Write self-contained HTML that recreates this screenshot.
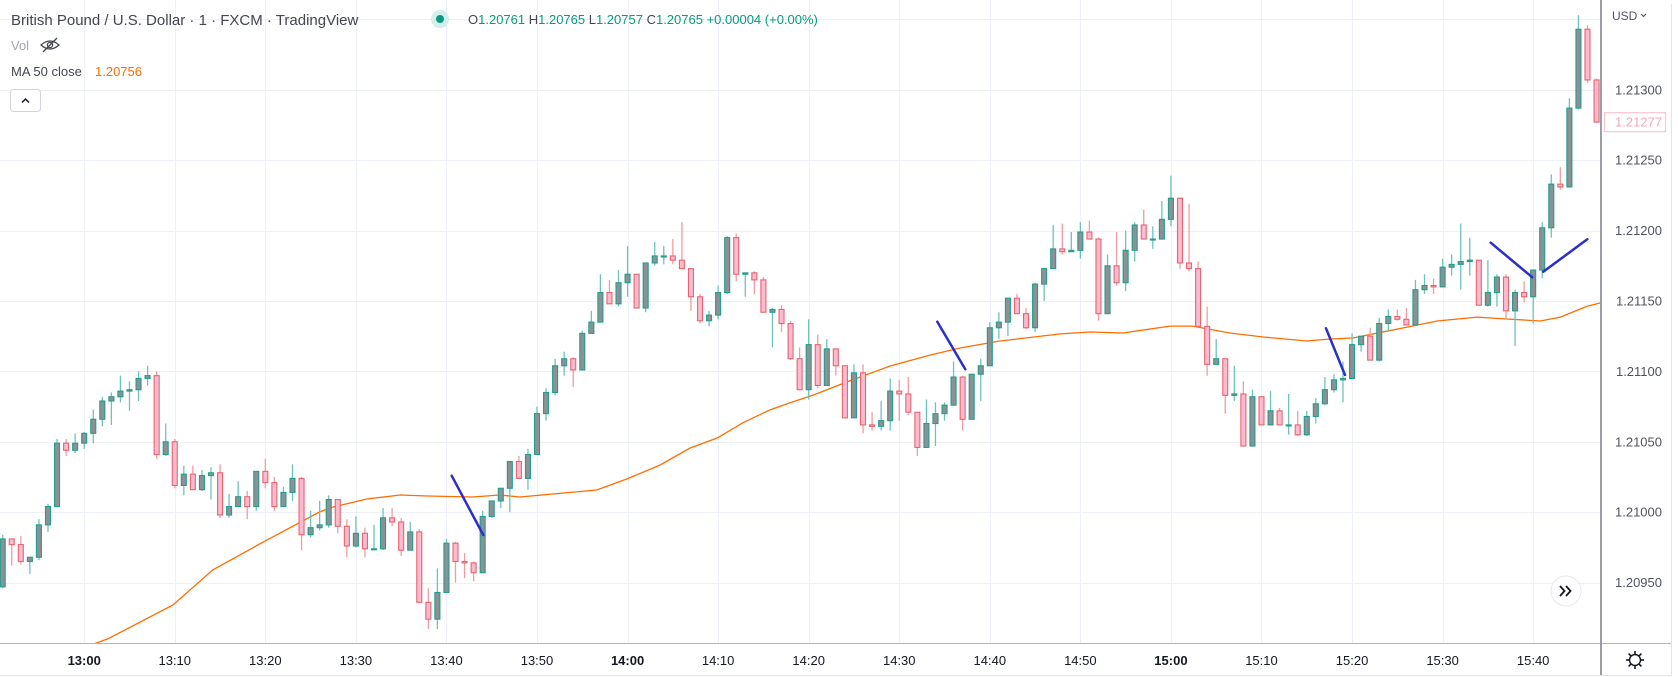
<!DOCTYPE html>
<html><head><meta charset="utf-8">
<style>
html,body{margin:0;padding:0;background:#fff;}
body{width:1678px;height:677px;overflow:hidden;font-family:"Liberation Sans",sans-serif;}
svg{display:block;}
</style></head>
<body>
<svg id="chart" width="1678" height="677" viewBox="0 0 1678 677" xmlns="http://www.w3.org/2000/svg">
  <rect x="0" y="0" width="1678" height="677" fill="#ffffff"/>
  <g id="grid"></g>
  <g id="ma"></g>
  <g id="candles"></g>
  <g id="drawings">
    <line x1="451.7" y1="475.7" x2="483.3" y2="535" stroke="#2b2fc8" stroke-width="2.5" stroke-linecap="round"/>
    <line x1="937.3" y1="321.7" x2="965.3" y2="369.3" stroke="#2b2fc8" stroke-width="2.5" stroke-linecap="round"/>
    <line x1="1326" y1="328.3" x2="1345" y2="375" stroke="#2b2fc8" stroke-width="2.5" stroke-linecap="round"/>
    <line x1="1490.7" y1="242.7" x2="1532.3" y2="277.3" stroke="#2b2fc8" stroke-width="2.5" stroke-linecap="round"/>
    <line x1="1543.3" y1="271.7" x2="1587.3" y2="239.3" stroke="#2b2fc8" stroke-width="2.5" stroke-linecap="round"/>
  </g>
  <rect x="1602" y="0" width="70" height="675" fill="#ffffff"/>
  <rect x="0" y="644" width="1601" height="31" fill="#ffffff"/>
  <line x1="0" y1="643.5" x2="1672" y2="643.5" stroke="#b2b5be" stroke-width="1"/>
  <line x1="1601" y1="0" x2="1601" y2="675" stroke="#9a9da6" stroke-width="2"/>
  <line x1="1671.5" y1="4" x2="1671.5" y2="675" stroke="#e0e3eb" stroke-width="1"/>
  <line x1="0" y1="675.5" x2="1672" y2="675.5" stroke="#e0e3eb" stroke-width="1"/>
  <g id="yaxis"></g>
  <g id="xaxis"></g>
  <text x="1612" y="20" font-size="12" fill="#50535e" font-family="Liberation Sans, sans-serif">USD</text>
  <path d="M1641 14 l2.5 2.5 l2.5 -2.5" fill="none" stroke="#50535e" stroke-width="1.1"/>
  <g transform="translate(1635,660)">
    <circle r="5.5" fill="none" stroke="#131722" stroke-width="1.4"/>
    <g stroke="#131722" stroke-width="1.6">
      <line x1="0" y1="-9" x2="0" y2="-6"/><line x1="0" y1="6" x2="0" y2="9"/>
      <line x1="-9" y1="0" x2="-6" y2="0"/><line x1="6" y1="0" x2="9" y2="0"/>
      <line x1="-6.4" y1="-6.4" x2="-4.2" y2="-4.2"/><line x1="4.2" y1="4.2" x2="6.4" y2="6.4"/>
      <line x1="-6.4" y1="6.4" x2="-4.2" y2="4.2"/><line x1="4.2" y1="-4.2" x2="6.4" y2="-6.4"/>
    </g>
  </g>
  <g>
    <circle cx="1566" cy="591" r="15" fill="#ffffff" stroke="#e6e8ee" stroke-width="1"/>
    <path d="M1560 586 l4.5 5 l-4.5 5 M1566 586 l4.5 5 l-4.5 5" fill="none" stroke="#131722" stroke-width="1.8"/>
  </g>
  <text x="11" y="25" font-size="15" fill="#434651" font-family="Liberation Sans, sans-serif">British Pound / U.S. Dollar · 1 · FXCM · TradingView</text>
  <circle cx="440" cy="19" r="9" fill="#d4efea"/>
  <circle cx="440" cy="19" r="4" fill="#089981"/>
  <text x="468" y="24" font-size="13" font-family="Liberation Sans, sans-serif" fill="#089981"><tspan fill="#434651">O</tspan>1.20761 <tspan fill="#434651">H</tspan>1.20765 <tspan fill="#434651">L</tspan>1.20757 <tspan fill="#434651">C</tspan>1.20765 +0.00004 (+0.00%)</text>
  <text x="11" y="50" font-size="13" fill="#a3a6af" font-family="Liberation Sans, sans-serif">Vol</text>
  <g stroke="#434651" fill="none" stroke-width="1.3">
    <path d="M41 45 q9 -8 18 0 q-9 8 -18 0z"/>
    <circle cx="50" cy="45" r="2.6"/>
    <line x1="43" y1="52" x2="57" y2="38"/>
  </g>
  <text x="11" y="76" font-size="13" fill="#434651" font-family="Liberation Sans, sans-serif">MA 50 close</text>
  <text x="95" y="76" font-size="13" fill="#ff6d00" font-family="Liberation Sans, sans-serif">1.20756</text>
  <g>
    <rect x="10.5" y="89.5" width="30" height="22" rx="3" fill="#ffffff" stroke="#d1d4dc"/>
    <path d="M22 102.5 l3.5 -3.5 l3.5 3.5" fill="none" stroke="#131722" stroke-width="1.5"/>
  </g>
  <g id="lastprice"></g>
</svg>
<script>
// Prices stored as offsets from BASE in units of 0.00001
const BASE = 1.20900;
const opens  = [47,81,77,65,68,91,104,149,144,149,156,166,179,182,186,187,195,197,141,150,119,127,116,126,128,98,104,111,104,129,121,104,114,124,84,89,91,109,90,76,85,74,74,96,93,73,86,36,24,43,78,65,64,57,97,108,117,136,124,141,170,185,204,209,201,227,235,256,248,263,269,245,277,282,282,279,273,253,236,240,256,295,269,270,265,242,244,234,209,187,219,190,216,204,167,199,162,161,165,186,184,171,146,163,170,176,196,166,198,204,231,235,252,241,231,262,273,287,285,286,299,294,241,275,263,286,304,294,294,308,323,277,273,232,205,209,183,184,147,182,162,172,162,162,155,168,177,187,194,195,219,225,208,234,239,237,233,258,261,260,274,276,278,279,247,256,267,243,256,253,272,302,333,331,387,443,407];
const highs  = [84,81,83,68,95,106,152,152,156,157,173,182,185,197,193,200,204,200,163,152,133,133,130,132,134,113,122,115,129,138,125,118,134,125,101,108,112,109,95,97,89,91,103,103,96,93,88,46,60,81,79,71,65,101,108,117,136,140,145,175,188,209,214,210,229,243,269,265,272,289,269,277,292,289,294,306,273,255,243,261,296,298,270,271,267,245,247,236,217,237,226,223,216,204,205,205,171,179,195,194,196,171,180,178,178,207,197,198,209,235,242,252,255,245,263,273,304,305,299,306,307,295,283,299,300,306,315,303,321,339,323,319,278,246,223,209,204,193,187,182,186,174,184,172,172,181,196,198,207,227,225,231,238,244,244,245,265,269,266,280,283,305,295,279,279,269,269,258,264,272,306,340,345,394,453,446,408];
const lows   = [46,62,63,56,66,86,104,140,142,145,149,161,162,178,172,179,190,138,140,117,112,116,115,109,96,96,104,95,101,117,101,104,108,73,82,87,89,85,68,75,68,74,73,90,69,73,36,17,17,43,50,53,51,57,96,103,100,124,116,141,165,183,197,189,201,227,235,248,246,253,245,242,275,276,276,273,243,234,232,237,255,264,253,255,242,217,228,208,187,180,188,190,197,167,167,156,158,158,158,165,169,140,146,147,165,176,158,166,179,204,223,225,241,230,228,250,273,283,285,280,294,236,241,261,257,278,294,287,294,303,273,271,232,197,205,170,179,147,147,162,162,162,155,154,154,163,176,185,178,195,214,208,207,228,236,233,233,255,255,260,268,258,268,247,246,246,237,218,249,234,266,295,329,331,386,405,377];
const closes = [81,77,65,68,91,104,149,144,149,156,166,179,182,186,187,195,197,141,150,119,127,116,126,128,98,104,111,104,129,121,104,114,124,84,89,91,109,90,76,85,74,74,96,93,73,86,36,24,43,78,65,64,57,97,108,117,136,124,141,170,185,204,209,201,227,235,256,248,263,269,245,277,282,282,279,273,253,236,240,256,295,269,270,265,242,244,234,209,187,219,190,216,204,167,199,162,161,165,186,184,171,146,163,170,176,196,166,198,204,231,235,252,241,231,262,273,287,285,286,299,294,241,275,263,286,304,294,294,308,323,277,273,232,205,209,183,184,147,182,162,172,162,162,155,168,177,187,194,195,219,225,208,234,239,237,233,258,261,260,274,276,278,279,247,256,267,243,256,253,272,302,333,331,387,443,407,377];
const maIdx = [9.75,11.6,18.8,23.2,29.2,35.0,36.5,40.2,43.9,46.9,51.9,54.9,57.1,65.6,68.9,72.6,75.9,78.9,81.7,84.7,86.9,89.5,93.2,98.0,102.4,105.7,110.1,116.8,120.1,123.7,128.9,131.4,135.5,139.2,144.0,146.6,149.1,154.6,158.4,162.8,166.1,169.8,172.0,175.0,176.4];
const maVal = [5.7,10,34.1,59,80.3,100.2,103.7,109.4,112.2,111.5,110.8,112.2,110.8,115.8,123.6,133.5,145.6,152.7,163.4,172.6,177.6,183.2,192.5,203.8,211.6,216.6,221.6,226.6,228,227.3,232.2,232.2,227.3,224.4,221.6,223,223.7,230.8,235.8,238.6,237.2,235.8,238.6,246.4,248.6];
const gridPrices = [1.2095,1.2100,1.2105,1.2110,1.2115,1.2120,1.2125,1.2130,1.2135];
const priceTicks = [1.2095,1.2100,1.2105,1.2110,1.2115,1.2120,1.2125,1.2130];
const timeLabels = ['13:00','13:10','13:20','13:30','13:40','13:50','14:00','14:10','14:20','14:30','14:40','14:50','15:00','15:10','15:20','15:30','15:40'];
const timeLabelIdx = [9,19,29,39,49,59,69,79,89,99,109,119,129,139,149,159,169];

const NS = 'http://www.w3.org/2000/svg';
const X0 = 2.7, DX = 9.056;
const Y_REF = 89.8, P_REF = 1.21300, PX_PER_PRICE = 140800;
function xAt(i){ return X0 + DX*i; }
function yPrice(p){ return Y_REF + (P_REF - p)*PX_PER_PRICE; }
function yOff(v){ return yPrice(BASE + v/100000); }
function mk(tag, attrs, parent){
  const el = document.createElementNS(NS, tag);
  for (const k in attrs) el.setAttribute(k, attrs[k]);
  parent.appendChild(el); return el;
}
const gGrid = document.getElementById('grid');
const gC = document.getElementById('candles');
const gMA = document.getElementById('ma');
const gY = document.getElementById('yaxis');
const gX = document.getElementById('xaxis');

gridPrices.forEach(p => {
  const y = Math.round(yPrice(p)) + 0.5;
  const ln = mk('line', {x1:0, x2:1601, y1:y, y2:y, stroke:'#edf0f6', 'stroke-width':1}, gGrid);
  
  
});
priceTicks.forEach(p => {
  const t = mk('text', {x:1662, y:yPrice(p)+4.5, 'text-anchor':'end', 'font-size':13, fill:'#50535e', 'font-family':'Liberation Sans, sans-serif'}, gY);
  t.textContent = p.toFixed(5);
  
  
});
timeLabels.forEach((lab, k) => {
  const x = Math.round(xAt(timeLabelIdx[k])) + 0.5;
  const ln = mk('line', {x1:x, x2:x, y1:0, y2:643, stroke:'#edf0f6', 'stroke-width':1}, gGrid);
  
  
  const bold = lab.endsWith(':00');
  const t = mk('text', {x:xAt(timeLabelIdx[k]), y:665, 'text-anchor':'middle', 'font-size':13, fill:'#131722', 'font-weight': bold ? 'bold' : 'normal', 'font-family':'Liberation Sans, sans-serif'}, gX);
  t.textContent = lab;
  
  
});

let d = '';
maIdx.forEach((ix, k) => { d += (k ? 'L' : 'M') + xAt(ix).toFixed(1) + ' ' + yOff(maVal[k]).toFixed(1); });
const maPath = mk('path', {d:d, fill:'none', stroke:'#ff6d00', 'stroke-width':1.3}, gMA);



for (let i = 0; i < opens.length; i++) {
  const up = closes[i] >= opens[i];
  const cx = xAt(i);
  const g = mk('g', {}, gC);
  
  
  mk('line', {x1:cx, x2:cx, y1:yOff(highs[i]), y2:yOff(lows[i]), stroke: up ? '#6cc4b8' : '#f19ca2', 'stroke-width':1.3}, g);
  const top = yOff(Math.max(opens[i], closes[i]));
  const bot = yOff(Math.min(opens[i], closes[i]));
  const h = Math.max(bot - top, 1);
  mk('rect', {x:cx-2.5, y:top, width:5, height:h, fill: up ? '#8e9194' : '#f8bbd0', stroke: up ? '#1f9e8f' : '#e8656f', 'stroke-width':1.1}, g);
}

const lp = closes[closes.length-1];
const ly = yOff(lp);
const lg = document.getElementById('lastprice');
mk('rect', {x:1604.5, y:ly-9.5, width:61, height:19, fill:'#ffffff', stroke:'#f7c6d2', 'stroke-width':1.2}, lg);
const lt = mk('text', {x:1662, y:ly+4.5, 'text-anchor':'end', 'font-size':13, fill:'#f5a7ba', 'font-family':'Liberation Sans, sans-serif'}, lg);
lt.textContent = (BASE + lp/100000).toFixed(5);


</script>
</body></html>
